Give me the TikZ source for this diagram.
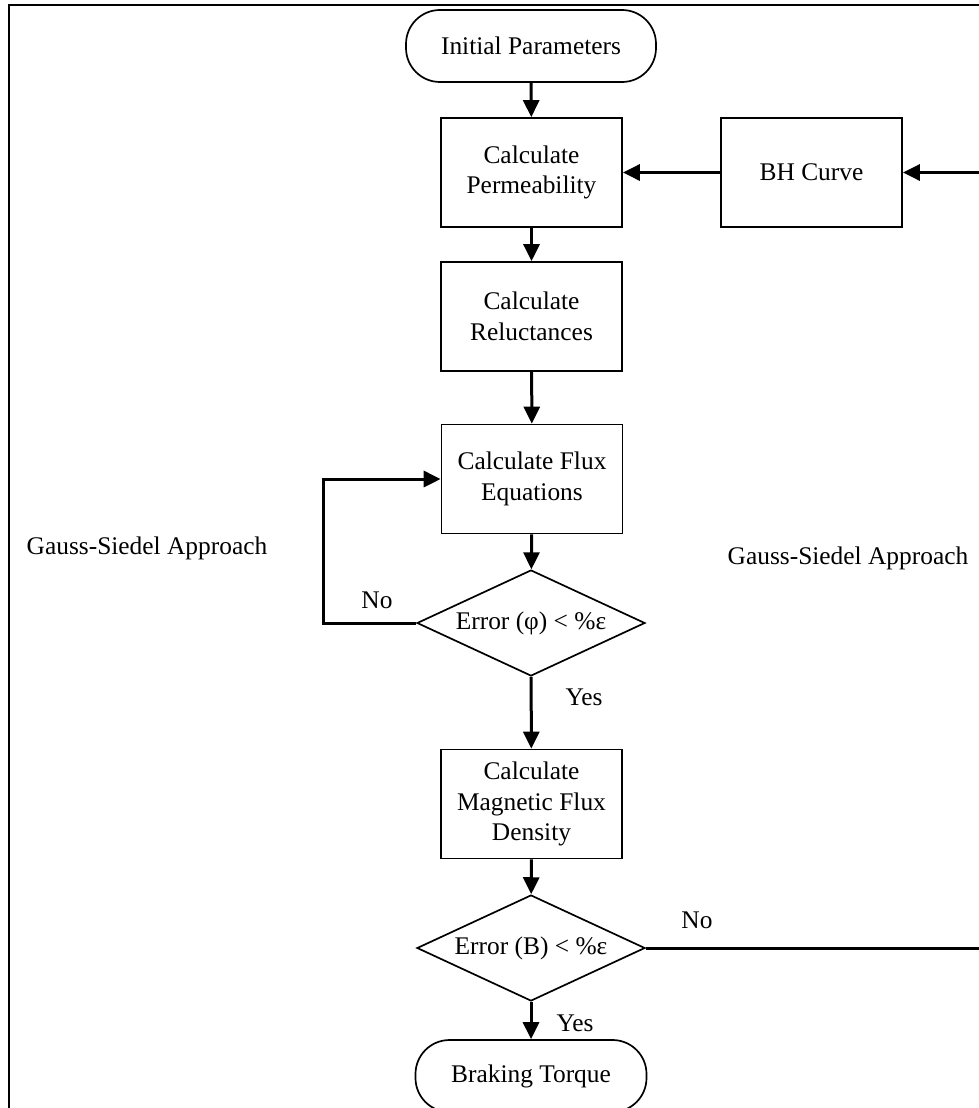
\documentclass[tikz,border=0pt]{standalone}
\usepackage{fontspec}
\setmainfont{Liberation Serif}
\usetikzlibrary{arrows.meta,shapes.geometric}
\begin{document}
\begin{tikzpicture}[x=1pt,y=-1pt,
  every node/.style={font=\fontsize{25.4}{30.5}\selectfont, align=center, inner sep=0pt},
  procbox/.style={draw, line width=1.7pt, minimum width=181pt, minimum height=109pt},
  termbox/.style={draw, line width=1.7pt, rounded corners=34pt, minimum height=72pt},
  decision/.style={draw, line width=1.7pt, shape=diamond, aspect=2.15,
                   minimum width=228pt, minimum height=106pt},
  flow/.style={line width=3pt, -{Triangle[length=17pt,width=16pt]}},
  lbl/.style={anchor=center}]
\useasboundingbox (0,0) rectangle (979,1108);
\clip (0,0) rectangle (979,1108);

% outer frame
\draw[line width=2.6pt] (9,1120) -- (9,5) -- (990,5);

% flowchart blocks
\node[termbox, minimum width=250pt] (init) at (531,46) {Initial Parameters};
\node[procbox] (perm) at (531.5,172.5) {Calculate\\Permeability};
\node[procbox] (bh) at (811.5,172.5) {BH Curve};
\node[procbox] (rel) at (531.5,316.5) {Calculate\\Reluctances};
\node[procbox] (flux) at (532,479) {Calculate Flux\\Equations};
\node[decision] (errphi) at (531,623) {Error (φ) < \%ε};
\node[procbox] (mag) at (531.5,804) {Calculate\\Magnetic Flux\\Density};
\node[decision] (errb) at (531,948) {Error (B) < \%ε};
\node[termbox, minimum width=231pt] (brake) at (531,1076) {Braking Torque};

% main flow
\draw[flow] (init) -- (perm);
\draw[flow] (bh) -- (perm);
\draw[flow] (perm) -- (rel);
\draw[flow] (rel) -- (flux);
\draw[flow] (flux) -- (errphi);
\draw[flow] (errphi) -- (mag);
\draw[flow] (mag) -- (errb);
\draw[flow] (errb) -- (brake);

% inner Gauss-Siedel loop
\coordinate (loopbot) at (323,623);
\coordinate (looptop) at (323,479);
\draw[flow] (errphi.west) -- (loopbot) -- (looptop) -- (flux.west);

% outer loop back to the BH curve
\coordinate (railbot) at (995,948);
\coordinate (railtop) at (995,172.5);
\draw[flow] (errb.east) -- (railbot) -- (railtop) -- (bh.east);

% labels
\node[lbl] (no1) at (377,600) {No};
\node[lbl] (yes1) at (584,697) {Yes};
\node[lbl] (gsleft) at (147,548) {Gauss-Siedel Approach};
\node[lbl] (gsright) at (848,558) {Gauss-Siedel Approach};
\node[lbl] (no2) at (697,920) {No};
\node[lbl] (yes2) at (575,1023) {Yes};
\end{tikzpicture}
\end{document}
